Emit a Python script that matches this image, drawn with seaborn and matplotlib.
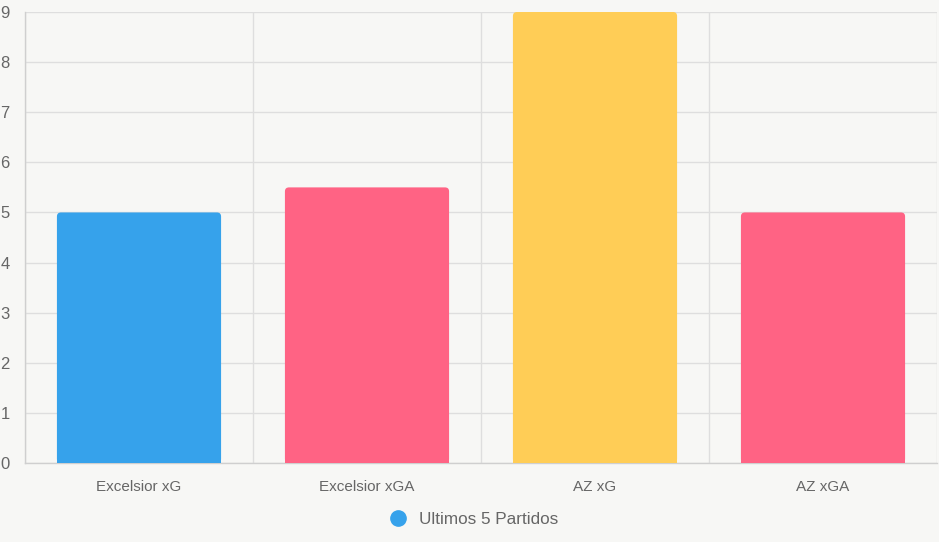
import numpy as np
import pandas as pd
import seaborn as sns
import matplotlib.pyplot as plt
from matplotlib.lines import Line2D
from matplotlib.patches import FancyBboxPatch

categories = ["Excelsior xG", "Excelsior xGA", "AZ xG", "AZ xGA"]
values = [5, 5.5, 9, 5]
bar_colors = ["#36a2eb", "#ff6384", "#ffcd56", "#ff6384"]
legend_label = "Ultimos 5 Partidos"

bg = "#f7f7f5"
grid_color = "#dedede"
text_color = "#666666"

sns.set_theme(style="white")
plt.rcParams["font.family"] = ["Liberation Sans", "DejaVu Sans"]

df = pd.DataFrame({"cat": categories, "val": values})

fig = plt.figure(figsize=(9.39, 5.42), dpi=100, facecolor=bg)
ax = fig.add_axes([25 / 939, (542 - 463) / 542, (937 - 25) / 939, (463 - 12) / 542])
ax.set_facecolor(bg)

sns.barplot(data=df, x="cat", y="val", hue="cat", palette=bar_colors,
            saturation=1, width=0.72, legend=False, ax=ax, zorder=3)

# swap the plain bars for ones with slightly rounded top corners
for p in list(ax.patches):
    x, y = p.get_x(), p.get_y()
    w, h = p.get_width(), p.get_height()
    fc = p.get_facecolor()
    p.remove()
    ax.add_patch(FancyBboxPatch((x, y), w, h, boxstyle="round,pad=0,rounding_size=0.018",
                                mutation_aspect=4.5, facecolor=fc, edgecolor="none",
                                zorder=3, clip_on=False))
    ax.add_patch(plt.Rectangle((x, y), w, h / 2, facecolor=fc, edgecolor="none", zorder=3))

ax.set_xlim(-0.5, len(categories) - 0.5)
ax.set_ylim(0, 9)
ax.set_yticks(range(0, 10))
ax.set_xlabel("")
ax.set_ylabel("")

ax.set_xticks(np.arange(-0.5, len(categories)), minor=True)
ax.tick_params(axis="x", which="major", length=0, pad=12, labelsize=11, labelcolor=text_color)
ax.tick_params(axis="x", which="minor", length=9, width=1, color=grid_color)
ax.tick_params(axis="y", length=9, width=1, color=grid_color, pad=2,
               labelsize=12, labelcolor=text_color)

ax.grid(axis="y", color=grid_color, linewidth=1, zorder=0)
ax.grid(axis="x", which="minor", color=grid_color, linewidth=1, zorder=0)
ax.grid(axis="x", which="major", visible=False)

for s in ["top", "right"]:
    ax.spines[s].set_visible(False)
for s in ["left", "bottom"]:
    ax.spines[s].set_color("#cfcfcf")
    ax.spines[s].set_linewidth(1)

handle = Line2D([], [], marker="o", linestyle="none", markersize=11,
                markerfacecolor="#36a2eb", markeredgecolor="#36a2eb")
fig.legend([handle], [legend_label], loc="center", bbox_to_anchor=(0.5, (542 - 519) / 542),
           frameon=False, fontsize=12.3, labelcolor=text_color, handletextpad=0.2,
           borderaxespad=0)

fig.savefig("out.png", dpi=100, facecolor=bg)
